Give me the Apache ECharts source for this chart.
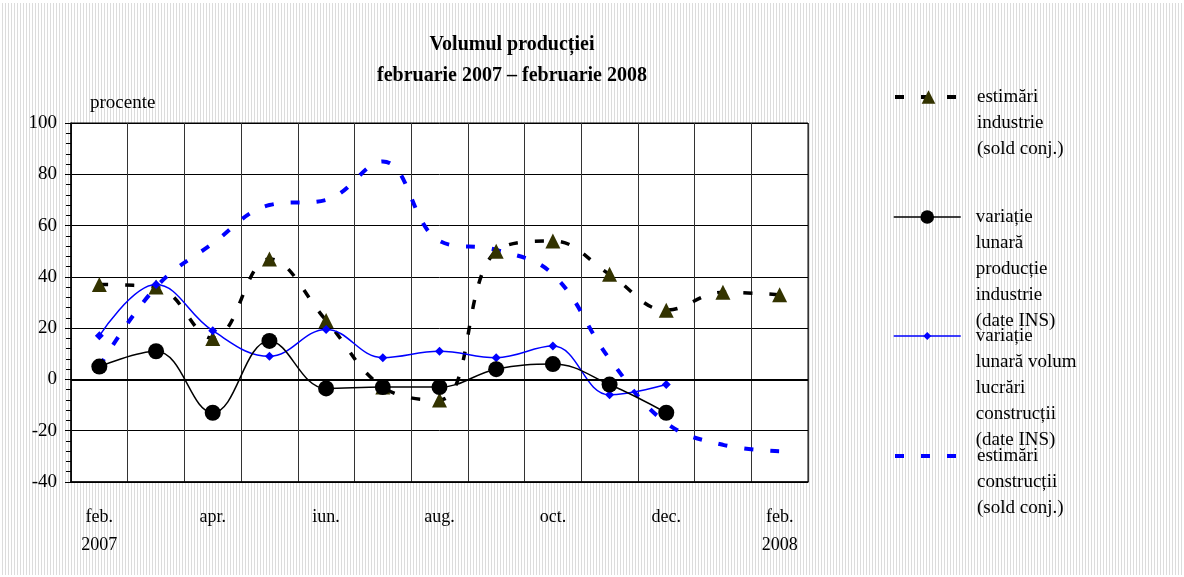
<!DOCTYPE html>
<html>
<head>
<meta charset="utf-8">
<script src="https://cdn.jsdelivr.net/npm/echarts@6/dist/echarts.min.js"></script>
<style>
    html, body {
        margin: 0;
        padding: 0;
        background: #ffffff;
    }
    .frame {
        position: absolute;
        left: 2px;
        top: 3px;
        width: 1180px;
        height: 572px;
        background: repeating-linear-gradient(90deg, #dcdcdc 0px, #dcdcdc 1px, #ffffff 1px, #ffffff 3px);
    }
    #main {
        position: absolute;
        left: 0;
        top: 0;
        width: 1184px;
        height: 577px;
    }
</style>
</head>
<body>
<div class="frame"></div>
<div id="main"></div>
<script>
// luni (feb. 2007 - feb. 2008)
var months = ['feb.\n2007', 'mar.', 'apr.', 'mai', 'iun.', 'iul.', 'aug.', 'sep.', 'oct.', 'nov.', 'dec.', 'ian.', 'feb.\n2008'];

// serii, procente
var estIndustrie = [37, 36, 16, 47, 23, -3, -8, 50, 54, 41, 27, 34, 33];
var varIndustrie = [5, 11, -13, 15, -3.5, -3, -3, 4, 6, -2, -13, null, null];
var varConstructii = [17, 37, 19, 9, 19.5, 8.5, 11, 8.5, 13, -6, -2, null, null];
var estConstructii = [5, 36, 53, 68, 70, 85, 54, 50.5, 41, 8, -17, -25.5, -28];

var names = [
    'estimări\nindustrie\n(sold conj.)',
    'variație\nlunară\nproducție\nindustrie\n(date INS)',
    'variație\nlunară volum\nlucrări\nconstrucții\n(date INS)',
    'estimări\nconstrucții\n(sold conj.)'
];

var serif = '"Liberation Serif", "DejaVu Serif", serif';
var lh = 26;

// o legenda pentru fiecare serie; randuri goale in fata ca iconita sa stea la primul rand
function makeLegend(name, iconY, itemHeight, lineWidth, hideSymbol) {
    var n = name.split('\n').length;
    var pad = '';
    for (var i = 1; i < n; i++) pad += ' \n';
    return {
        data: [name],
        left: 893,
        top: iconY - (2 * n - 1) * lh / 2,
        padding: 0,
        itemWidth: 67,
        itemHeight: itemHeight,
        selectedMode: false,
        itemStyle: hideSymbol ? { opacity: 0 } : {},
        lineStyle: { width: lineWidth },
        formatter: function(nm) {
            return pad + nm;
        },
        textStyle: {
            fontFamily: serif,
            fontSize: 19,
            color: '#000',
            lineHeight: lh,
            padding: [0, 0, 0, 10]
        }
    };
}

var chart = echarts.init(document.getElementById('main'));
chart.setOption({
    backgroundColor: 'transparent',
    animation: false,
    title: {
        text: 'Volumul producției\nfebruarie 2007 – februarie 2008',
        left: 507,
        top: 24,
        textAlign: 'center',
        textStyle: {
            fontFamily: serif,
            fontSize: 20,
            fontWeight: 'bold',
            color: '#000',
            lineHeight: 31
        }
    },
    legend: [
        makeLegend(names[0], 97, 17, 4),
        makeLegend(names[1], 217, 17, 1.5),
        makeLegend(names[2], 336, 10, 1.5),
        makeLegend(names[3], 456, 10, 4, true)
    ],
    grid: {
        left: 71,
        top: 123,
        right: 376,
        bottom: 95,
        show: true,
        backgroundColor: '#ffffff',
        borderColor: '#000',
        borderWidth: 1
    },
    xAxis: {
        type: 'category',
        data: months,
        boundaryGap: true,
        axisLine: { onZero: false, lineStyle: { color: '#000', width: 1.5 } },
        axisTick: { show: false },
        splitLine: { show: true, interval: 0, lineStyle: { color: '#333', width: 1 } },
        axisLabel: {
            interval: 1,
            margin: 21,
            fontFamily: serif,
            fontSize: 18,
            lineHeight: 28,
            color: '#000'
        }
    },
    yAxis: {
        type: 'value',
        min: -40,
        max: 100,
        interval: 20,
        name: 'procente',
        nameLocation: 'end',
        nameGap: 20,
        nameTextStyle: {
            fontFamily: serif,
            fontSize: 19,
            color: '#000',
            align: 'left',
            verticalAlign: 'middle',
            padding: [0, 0, 0, 19]
        },
        axisLine: { show: true, lineStyle: { color: '#000', width: 1.5 } },
        axisTick: { show: true, length: 6, lineStyle: { color: '#000' } },
        minorTick: { show: true, splitNumber: 5, length: 5, lineStyle: { color: '#000' } },
        splitLine: { lineStyle: { color: '#000', width: 1 } },
        axisLabel: {
            margin: 14,
            fontFamily: serif,
            fontSize: 19,
            color: '#000'
        }
    },
    series: [
        {
            name: names[3],
            type: 'line',
            data: estConstructii,
            smooth: 0.4,
            showSymbol: false,
            symbol: 'none',
            z: 2,
            itemStyle: { color: '#0000ff' },
            lineStyle: { color: '#0000ff', width: 4, type: [9, 17] }
        },
        {
            name: names[0],
            type: 'line',
            data: estIndustrie,
            smooth: 0.4,
            symbol: 'triangle',
            symbolSize: 15,
            z: 3,
            itemStyle: { color: '#333300' },
            lineStyle: { color: '#000', width: 3.5, type: [9, 17] }
        },
        {
            name: names[2],
            type: 'line',
            data: varConstructii,
            smooth: 0.4,
            symbol: 'diamond',
            symbolSize: 9,
            z: 4,
            itemStyle: { color: '#0000ff' },
            lineStyle: { color: '#0000ff', width: 1.5 }
        },
        {
            name: names[1],
            type: 'line',
            data: varIndustrie,
            smooth: 0.4,
            symbol: 'circle',
            symbolSize: 16,
            z: 5,
            itemStyle: { color: '#000' },
            lineStyle: { color: '#000', width: 1.5 },
            markLine: {
                silent: true,
                symbol: 'none',
                label: { show: false },
                lineStyle: { color: '#000', width: 2, type: 'solid' },
                data: [{ yAxis: 0 }]
            }
        }
    ]
});
</script>
</body>
</html>
